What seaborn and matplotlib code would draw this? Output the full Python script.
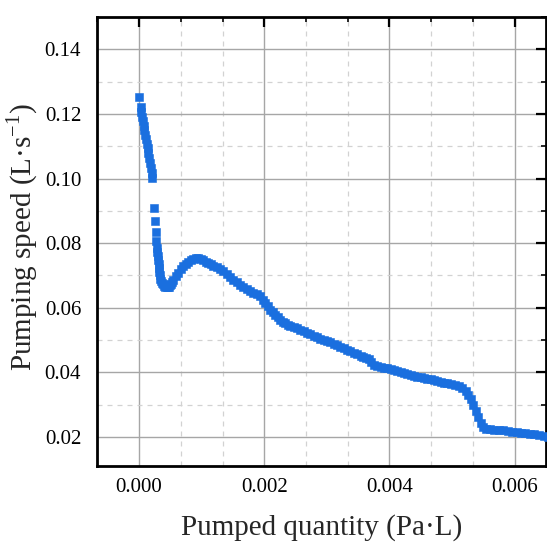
import matplotlib
matplotlib.use("Agg")
import matplotlib.pyplot as plt
from matplotlib.ticker import AutoMinorLocator
import seaborn as sns
import pandas as pd

# Pumped quantity (Pa·L)
pumped_quantity = [
    0.000000, 0.000027, 0.000038, 0.000050, 0.000062, 0.000074, 0.000086, 0.000098,
    0.000110, 0.000123, 0.000136, 0.000149, 0.000161, 0.000174, 0.000187, 0.000200,
    0.000212, 0.000236, 0.000252, 0.000263, 0.000272, 0.000288, 0.000294, 0.000300,
    0.000306, 0.000311, 0.000318, 0.000324, 0.000332, 0.000340, 0.000352, 0.000364,
    0.000380, 0.000396, 0.000418, 0.000439, 0.000458, 0.000476, 0.000492, 0.000508,
    0.000526, 0.000545, 0.000585, 0.000625, 0.000665, 0.000705, 0.000745, 0.000785,
    0.000825, 0.000865, 0.000905, 0.000946, 0.000986, 0.001026, 0.001066, 0.001106,
    0.001146, 0.001186, 0.001240, 0.001293, 0.001347, 0.001401, 0.001454, 0.001506,
    0.001560, 0.001614, 0.001667, 0.001720, 0.001774, 0.001827, 0.001880, 0.001934,
    0.001974, 0.002014, 0.002055, 0.002095, 0.002135, 0.002175, 0.002215, 0.002255,
    0.002295, 0.002335, 0.002375, 0.002415, 0.002468, 0.002522, 0.002575, 0.002628,
    0.002682, 0.002736, 0.002790, 0.002843, 0.002896, 0.002949, 0.003003, 0.003056,
    0.003109, 0.003163, 0.003216, 0.003270, 0.003323, 0.003377, 0.003430, 0.003484,
    0.003537, 0.003580, 0.003625, 0.003670, 0.003710, 0.003750, 0.003800, 0.003857,
    0.003910, 0.003964, 0.004018, 0.004071, 0.004125, 0.004178, 0.004231, 0.004285,
    0.004338, 0.004391, 0.004445, 0.004498, 0.004552, 0.004605, 0.004659, 0.004712,
    0.004766, 0.004819, 0.004872, 0.004926, 0.004979, 0.005045, 0.005112, 0.005166,
    0.005220, 0.005260, 0.005300, 0.005340, 0.005380, 0.005420, 0.005460, 0.005500,
    0.005540, 0.005607, 0.005673, 0.005745, 0.005816, 0.005888, 0.005959, 0.006030,
    0.006101, 0.006172, 0.006243, 0.006314, 0.006394, 0.006474, 0.006530,
]

# Pumping speed (L·s^-1)
pumping_speed = [
    0.1253, 0.1221, 0.1206, 0.1192, 0.1178, 0.1164, 0.1150, 0.1136,
    0.1122, 0.1108, 0.1093, 0.1078, 0.1063, 0.1048, 0.1033, 0.1018,
    0.1002, 0.0909, 0.0869, 0.0833, 0.0808, 0.0786, 0.0773, 0.0761,
    0.0748, 0.0736, 0.0724, 0.0712, 0.0700, 0.0690, 0.0683, 0.0678,
    0.0672, 0.0668, 0.0665, 0.0664, 0.0664, 0.0665, 0.0670, 0.0675,
    0.0681, 0.0687, 0.0698, 0.0708, 0.0719, 0.0728, 0.0736, 0.0743,
    0.0748, 0.0751, 0.0753, 0.0753, 0.0751, 0.0749, 0.0743, 0.0738,
    0.0734, 0.0730, 0.0725, 0.0720, 0.0713, 0.0705, 0.0696, 0.0687,
    0.0679, 0.0671, 0.0664, 0.0657, 0.0651, 0.0646, 0.0641, 0.0635,
    0.0625, 0.0615, 0.0604, 0.0594, 0.0587, 0.0579, 0.0571, 0.0563,
    0.0557, 0.0552, 0.0547, 0.0543, 0.0539, 0.0536, 0.0532, 0.0528,
    0.0523, 0.0519, 0.0514, 0.0509, 0.0504, 0.0500, 0.0497, 0.0493,
    0.0488, 0.0484, 0.0479, 0.0474, 0.0470, 0.0465, 0.0461, 0.0457,
    0.0452, 0.0447, 0.0444, 0.0440, 0.0431, 0.0424, 0.0420, 0.0417,
    0.0414, 0.0412, 0.0409, 0.0406, 0.0403, 0.0400, 0.0397, 0.0394,
    0.0391, 0.0389, 0.0387, 0.0385, 0.0383, 0.0380, 0.0378, 0.0375,
    0.0372, 0.0369, 0.0367, 0.0366, 0.0364, 0.0361, 0.0357, 0.0351,
    0.0342, 0.0330, 0.0316, 0.0298, 0.0280, 0.0262, 0.0244, 0.0232,
    0.0225, 0.0224, 0.0223, 0.0221, 0.0220, 0.0218, 0.0216, 0.0215,
    0.0213, 0.0212, 0.0210, 0.0208, 0.0205, 0.0202, 0.0201,
]

x_ticks = [0.000, 0.002, 0.004, 0.006]
y_ticks = [0.02, 0.04, 0.06, 0.08, 0.10, 0.12, 0.14]

sns.set_style("white")
plt.rcParams["font.family"] = ["Liberation Serif", "DejaVu Serif"]
plt.rcParams["mathtext.fontset"] = "custom"
plt.rcParams["mathtext.rm"] = "Liberation Serif"

df = pd.DataFrame({"q": pumped_quantity, "s": pumping_speed})

fig = plt.figure(figsize=(5.47, 5.42), dpi=100)
ax = fig.add_axes([96.5 / 547, 1 - 466.0 / 542, (546 - 96.5) / 547, (466.0 - 16.7) / 542])

color = "#1a6fdf"
sns.scatterplot(data=df, x="q", y="s", ax=ax, marker="s", s=32, color=color,
                edgecolor=color, linewidth=0.4, zorder=3, legend=False)

ax.set_xlim(-0.00068, 0.0065)
ax.set_ylim(0.011, 0.1501)
ax.set_xticks(x_ticks)
ax.set_xticklabels([f"{v:.3f}" for v in x_ticks])
ax.set_yticks(y_ticks)
ax.set_yticklabels([f"{v:.2f}" for v in y_ticks])
ax.xaxis.set_minor_locator(AutoMinorLocator(3))
ax.yaxis.set_minor_locator(AutoMinorLocator(2))

ax.grid(True, which="major", color="#a6a6a6", linewidth=1.0, linestyle="-", zorder=0)
ax.grid(True, which="minor", color="#d2d2d2", linewidth=0.9, linestyle=(0, (4, 4)), zorder=0)
ax.set_axisbelow(True)

for sp in ax.spines.values():
    sp.set_linewidth(2.0)
    sp.set_color("black")

ax.tick_params(which="major", direction="in", length=7, width=1.6, top=True, right=True,
               labelsize=15, colors="black")
ax.tick_params(axis="x", which="major", pad=9)
ax.tick_params(axis="y", which="major", pad=11)
ax.tick_params(which="minor", direction="in", length=3.5, width=1.4, top=True, right=True)

ax.set_xlabel("Pumped quantity (Pa·L)", fontsize=21, labelpad=12)
ax.set_ylabel("Pumping speed (L·s$^{-1}$)", fontsize=21)
ax.yaxis.set_label_coords(-0.125, 0.51)

fig.savefig("out.png", dpi=100)
